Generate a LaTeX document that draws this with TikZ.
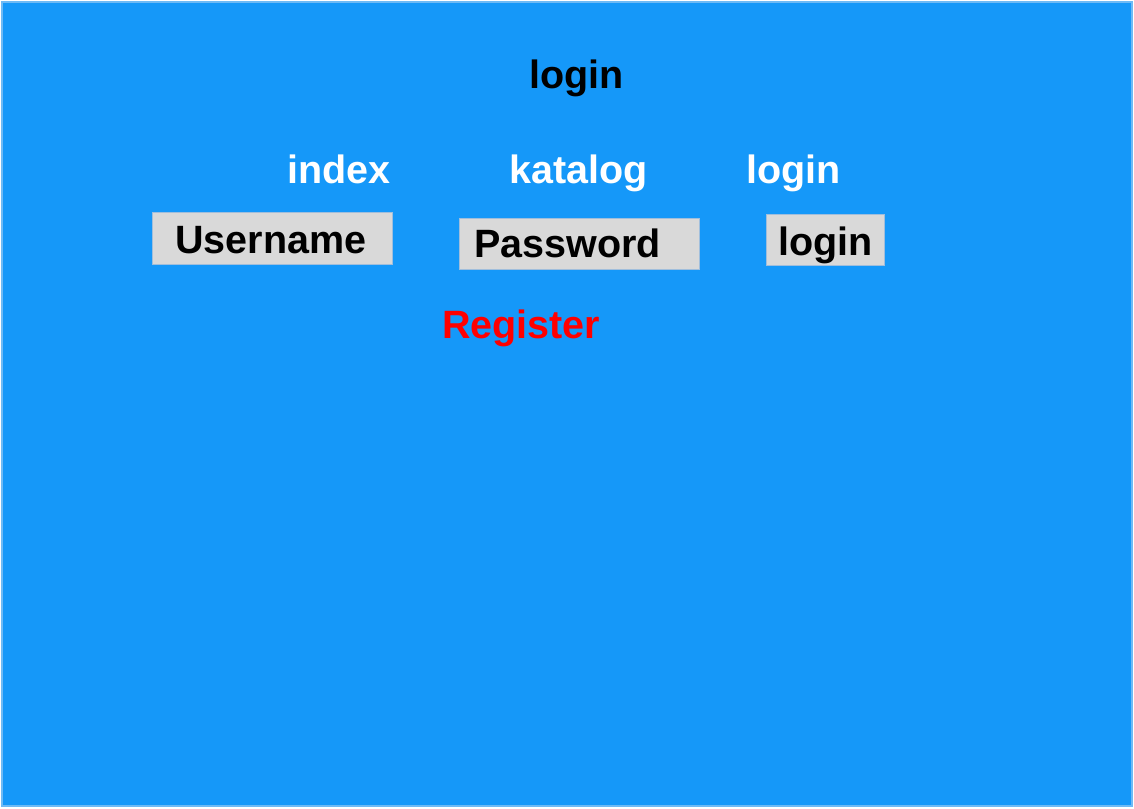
\documentclass[tikz,border=0pt]{standalone}
\usepackage{fontspec}
\setmainfont{Liberation Sans}
\definecolor{bgblue}{RGB}{21,152,249}
\definecolor{bgedge}{RGB}{110,186,245}
\definecolor{boxgray}{RGB}{217,217,217}
\definecolor{boxedge}{RGB}{160,190,220}
\begin{document}
\begin{tikzpicture}[x=1pt,y=-1pt,
  lbl/.style={anchor=base west,inner sep=0pt,font=\fontsize{39.5}{44}\selectfont\bfseries},
  field/.style={draw=boxedge,line width=1pt,fill=boxgray,inner sep=0pt}]
\useasboundingbox (0,0) rectangle (1134,808);
\path[fill=bgblue,draw=bgedge,line width=2pt] (2,2) rectangle (1132,806);
% fields
\node[field,minimum width=240pt,minimum height=52pt] (ubox) at (272,238) {};
\node[field,minimum width=240pt,minimum height=51pt] (pbox) at (579,243.5) {};
\node[field,minimum width=118pt,minimum height=51pt] (lbox) at (825,239.5) {};
% texts
\node[lbl,text=black] (title) at (529,88) {login};
\node[lbl,text=white] (index) at (287,183) {index};
\node[lbl,text=white] (katalog) at (509,183) {katalog};
\node[lbl,text=white] (loginlink) at (746,183) {login};
\node[lbl,text=black] (user) at (175,253) {Username};
\node[lbl,text=black] (pass) at (474,257) {Password};
\node[lbl,text=black] (loginbtn) at (778,255) {login};
\node[lbl,text=red] (reg) at (442,338) {Register};
\end{tikzpicture}
\end{document}
